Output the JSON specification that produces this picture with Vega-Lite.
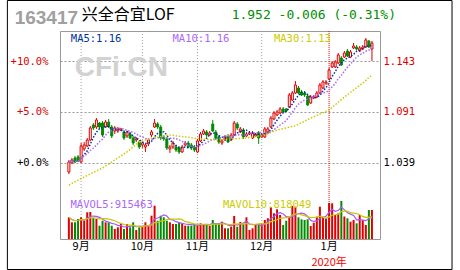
{
"$schema": "https://vega.github.io/schema/vega-lite/v6.json",
"width": 320, "height": 208,
"autosize": {"type": "none"},
"padding": {"left": 60, "top": 31, "right": 80, "bottom": 31},
"background": "#ffffff",
"config": {"view": {"stroke": "#999999", "strokeWidth": 1}},
"datasets": {"k": [
{"i":0,"o":1.0295,"h":1.0418,"l":1.0274,"c":1.0397,"v":868000,"ma30":1.0161},
{"i":1,"o":1.0387,"h":1.0438,"l":1.0377,"c":1.0418,"v":668000},
{"i":2,"o":1.0438,"h":1.0459,"l":1.0387,"c":1.0397,"v":668000},
{"i":3,"o":1.0449,"h":1.0469,"l":1.0397,"c":1.0408,"v":800000},
{"i":4,"o":1.0397,"h":1.0592,"l":1.0387,"c":1.0561,"v":868000,"ma30":1.0228},
{"i":5,"o":1.0531,"h":1.0602,"l":1.0510,"c":1.0572,"v":732000},
{"i":6,"o":1.0561,"h":1.0643,"l":1.0551,"c":1.0623,"v":1068000},
{"i":7,"o":1.0623,"h":1.0766,"l":1.0613,"c":1.0746,"v":1080000},
{"i":8,"o":1.0777,"h":1.0797,"l":1.0725,"c":1.0746,"v":840000},
{"i":9,"o":1.0756,"h":1.0848,"l":1.0736,"c":1.0828,"v":800000},
{"i":10,"o":1.0797,"h":1.0807,"l":1.0736,"c":1.0756,"v":532000},
{"i":11,"o":1.0797,"h":1.0818,"l":1.0654,"c":1.0674,"v":732000,"ma30":1.0336},
{"i":12,"o":1.0756,"h":1.0828,"l":1.0746,"c":1.0807,"v":668000},
{"i":13,"o":1.0807,"h":1.0838,"l":1.0746,"c":1.0756,"v":668000},
{"i":14,"o":1.0756,"h":1.0777,"l":1.0643,"c":1.0664,"v":532000},
{"i":15,"o":1.0715,"h":1.0766,"l":1.0684,"c":1.0746,"v":400000},
{"i":16,"o":1.0715,"h":1.0756,"l":1.0695,"c":1.0725,"v":468000},
{"i":17,"o":1.0725,"h":1.0746,"l":1.0715,"c":1.0736,"v":600000},
{"i":18,"o":1.0705,"h":1.0725,"l":1.0623,"c":1.0643,"v":400000},
{"i":19,"o":1.0664,"h":1.0715,"l":1.0643,"c":1.0705,"v":600000,"ma30":1.0500},
{"i":20,"o":1.0684,"h":1.0705,"l":1.0633,"c":1.0643,"v":468000},
{"i":21,"o":1.0643,"h":1.0664,"l":1.0572,"c":1.0592,"v":668000},
{"i":22,"o":1.0623,"h":1.0654,"l":1.0602,"c":1.0633,"v":360000},
{"i":23,"o":1.0602,"h":1.0623,"l":1.0531,"c":1.0551,"v":468000,"ma30":1.0602},
{"i":24,"o":1.0572,"h":1.0613,"l":1.0541,"c":1.0592,"v":532000},
{"i":25,"o":1.0551,"h":1.0582,"l":1.0500,"c":1.0572,"v":668000},
{"i":26,"o":1.0582,"h":1.0643,"l":1.0561,"c":1.0623,"v":532000},
{"i":27,"o":1.0674,"h":1.0725,"l":1.0654,"c":1.0705,"v":932000,"ma30":1.0643},
{"i":28,"o":1.0756,"h":1.0838,"l":1.0746,"c":1.0797,"v":1332000},
{"i":29,"o":1.0787,"h":1.0807,"l":1.0736,"c":1.0756,"v":732000},
{"i":30,"o":1.0756,"h":1.0777,"l":1.0623,"c":1.0643,"v":932000},
{"i":31,"o":1.0654,"h":1.0674,"l":1.0613,"c":1.0633,"v":868000},
{"i":32,"o":1.0633,"h":1.0654,"l":1.0520,"c":1.0541,"v":732000},
{"i":33,"o":1.0531,"h":1.0572,"l":1.0490,"c":1.0551,"v":668000,"ma30":1.0674},
{"i":34,"o":1.0551,"h":1.0613,"l":1.0531,"c":1.0592,"v":600000},
{"i":35,"o":1.0551,"h":1.0572,"l":1.0500,"c":1.0520,"v":600000},
{"i":36,"o":1.0541,"h":1.0561,"l":1.0479,"c":1.0500,"v":668000},
{"i":37,"o":1.0500,"h":1.0572,"l":1.0490,"c":1.0551,"v":600000},
{"i":38,"o":1.0572,"h":1.0613,"l":1.0561,"c":1.0592,"v":532000,"ma30":1.0654},
{"i":39,"o":1.0592,"h":1.0613,"l":1.0541,"c":1.0551,"v":532000},
{"i":40,"o":1.0572,"h":1.0592,"l":1.0520,"c":1.0541,"v":532000},
{"i":41,"o":1.0551,"h":1.0572,"l":1.0500,"c":1.0520,"v":600000},
{"i":42,"o":1.0500,"h":1.0633,"l":1.0490,"c":1.0613,"v":532000},
{"i":43,"o":1.0613,"h":1.0705,"l":1.0602,"c":1.0684,"v":628000,"ma30":1.0633},
{"i":44,"o":1.0684,"h":1.0736,"l":1.0674,"c":1.0715,"v":600000},
{"i":45,"o":1.0705,"h":1.0725,"l":1.0654,"c":1.0674,"v":572000},
{"i":46,"o":1.0674,"h":1.0715,"l":1.0664,"c":1.0695,"v":532000},
{"i":47,"o":1.0787,"h":1.0828,"l":1.0705,"c":1.0715,"v":760000},
{"i":48,"o":1.0705,"h":1.0725,"l":1.0623,"c":1.0643,"v":628000,"ma30":1.0623},
{"i":49,"o":1.0654,"h":1.0674,"l":1.0582,"c":1.0602,"v":600000},
{"i":50,"o":1.0592,"h":1.0633,"l":1.0572,"c":1.0613,"v":692000},
{"i":51,"o":1.0623,"h":1.0674,"l":1.0613,"c":1.0654,"v":428000},
{"i":52,"o":1.0654,"h":1.0684,"l":1.0592,"c":1.0602,"v":428000},
{"i":53,"o":1.0623,"h":1.0695,"l":1.0613,"c":1.0674,"v":492000,"ma30":1.0633},
{"i":54,"o":1.0674,"h":1.0818,"l":1.0664,"c":1.0797,"v":920000},
{"i":55,"o":1.0787,"h":1.0807,"l":1.0725,"c":1.0746,"v":492000},
{"i":56,"o":1.0705,"h":1.0756,"l":1.0695,"c":1.0736,"v":680000},
{"i":57,"o":1.0725,"h":1.0746,"l":1.0633,"c":1.0654,"v":600000},
{"i":58,"o":1.0664,"h":1.0705,"l":1.0654,"c":1.0684,"v":868000,"ma30":1.0643},
{"i":59,"o":1.0684,"h":1.0715,"l":1.0674,"c":1.0695,"v":360000},
{"i":60,"o":1.0643,"h":1.0715,"l":1.0633,"c":1.0695,"v":428000},
{"i":61,"o":1.0664,"h":1.0695,"l":1.0654,"c":1.0684,"v":600000},
{"i":62,"o":1.0695,"h":1.0715,"l":1.0582,"c":1.0643,"v":600000},
{"i":63,"o":1.0654,"h":1.0695,"l":1.0643,"c":1.0674,"v":628000},
{"i":64,"o":1.0654,"h":1.0756,"l":1.0643,"c":1.0736,"v":760000,"ma30":1.0674},
{"i":65,"o":1.0705,"h":1.0756,"l":1.0695,"c":1.0736,"v":828000},
{"i":66,"o":1.0756,"h":1.0869,"l":1.0746,"c":1.0848,"v":1268000},
{"i":67,"o":1.0838,"h":1.0920,"l":1.0828,"c":1.0900,"v":1028000},
{"i":68,"o":1.0879,"h":1.0930,"l":1.0869,"c":1.0910,"v":1188000,"ma30":1.0725},
{"i":69,"o":1.0900,"h":1.0961,"l":1.0889,"c":1.0941,"v":960000},
{"i":70,"o":1.0941,"h":1.0961,"l":1.0900,"c":1.0910,"v":560000},
{"i":71,"o":1.0941,"h":1.0951,"l":1.0910,"c":1.0920,"v":732000},
{"i":72,"o":1.0961,"h":1.1105,"l":1.0951,"c":1.1084,"v":892000},
{"i":73,"o":1.1033,"h":1.1125,"l":1.1023,"c":1.1105,"v":1320000},
{"i":74,"o":1.1105,"h":1.1228,"l":1.1095,"c":1.1187,"v":1292000,"ma30":1.0769},
{"i":75,"o":1.1156,"h":1.1177,"l":1.1095,"c":1.1105,"v":868000},
{"i":76,"o":1.1115,"h":1.1136,"l":1.1074,"c":1.1084,"v":788000},
{"i":77,"o":1.1105,"h":1.1125,"l":1.1064,"c":1.1084,"v":760000},
{"i":78,"o":1.1074,"h":1.1095,"l":1.0971,"c":1.0982,"v":788000},
{"i":79,"o":1.1002,"h":1.1084,"l":1.0992,"c":1.1064,"v":520000,"ma30":1.0848},
{"i":80,"o":1.1054,"h":1.1084,"l":1.1043,"c":1.1064,"v":652000},
{"i":81,"o":1.1064,"h":1.1125,"l":1.1054,"c":1.1105,"v":892000},
{"i":82,"o":1.1105,"h":1.1207,"l":1.1095,"c":1.1187,"v":1292000},
{"i":83,"o":1.1156,"h":1.1238,"l":1.1146,"c":1.1218,"v":892000},
{"i":84,"o":1.1207,"h":1.1238,"l":1.1187,"c":1.1218,"v":828000},
{"i":85,"o":1.1249,"h":1.1361,"l":1.1238,"c":1.1341,"v":1440000,"ma30":1.0930},
{"i":86,"o":1.1372,"h":1.1433,"l":1.1361,"c":1.1413,"v":1428000},
{"i":87,"o":1.1372,"h":1.1443,"l":1.1361,"c":1.1423,"v":960000},
{"i":88,"o":1.1413,"h":1.1515,"l":1.1402,"c":1.1495,"v":1028000},
{"i":89,"o":1.1464,"h":1.1484,"l":1.1382,"c":1.1392,"v":1520000},
{"i":90,"o":1.1474,"h":1.1536,"l":1.1464,"c":1.1515,"v":900000,"ma30":1.1064},
{"i":91,"o":1.1536,"h":1.1556,"l":1.1474,"c":1.1484,"v":828000},
{"i":92,"o":1.1474,"h":1.1546,"l":1.1464,"c":1.1526,"v":692000},
{"i":93,"o":1.1567,"h":1.1618,"l":1.1556,"c":1.1587,"v":760000},
{"i":94,"o":1.1577,"h":1.1597,"l":1.1546,"c":1.1556,"v":628000},
{"i":95,"o":1.1536,"h":1.1587,"l":1.1526,"c":1.1567,"v":960000},
{"i":96,"o":1.1556,"h":1.1597,"l":1.1546,"c":1.1577,"v":750000,"ma30":1.1207},
{"i":97,"o":1.1577,"h":1.1669,"l":1.1567,"c":1.1649,"v":560000},
{"i":98,"o":1.1638,"h":1.1649,"l":1.1567,"c":1.1577,"v":1160000},
{"i":99,"o":1.1556,"h":1.1638,"l":1.1433,"c":1.1618,"v":1160000,"ma30":1.1290}
],
"months": [{"i": 4, "m": "9月"}, {"i": 24, "m": "10月"}, {"i": 42, "m": "11月"}, {"i": 63, "m": "12月"}, {"i": 85, "m": "1月"}],
"one": [{"n": 1}]},
"layer": [
  {
    "layer": [
      {"data": {"name": "months"},
       "mark": {"type": "rule", "strokeWidth": 1},
       "encoding": {
         "x": {"field": "i", "type": "quantitative", "scale": {"domain": [-1.266, 100], "nice": false, "zero": false}, "axis": null},
         "color": {"condition": {"test": "datum.i == 85", "value": "#ff0000"}, "value": "#a0a0a0"},
         "strokeDash": {"condition": {"test": "datum.i == 85", "value": [1, 1]}, "value": [1, 2]}}},
      {"data": {"name": "k"},
       "mark": {"type": "bar", "orient": "vertical", "size": 2},
       "encoding": {
         "x": {"field": "i", "type": "quantitative", "axis": null},
         "y": {"field": "v", "type": "quantitative", "scale": {"domain": [0, 8320000], "nice": false, "zero": true}, "axis": null},
         "color": {"condition": {"test": "datum.c >= datum.o", "value": "#e00000"}, "value": "#008c00"}}},
      {"data": {"name": "k"},
       "transform": [{"window": [{"op": "mean", "field": "v", "as": "mavol5"}], "frame": [-4, 0], "sort": [{"field": "i"}]}],
       "mark": {"type": "line", "color": "#aa55ff", "strokeWidth": 1.2},
       "encoding": {"x": {"field": "i", "type": "quantitative", "axis": null},
         "y": {"field": "mavol5", "type": "quantitative", "axis": null}}},
      {"data": {"name": "k"},
       "transform": [{"window": [{"op": "mean", "field": "v", "as": "mavol10"}], "frame": [-9, 0], "sort": [{"field": "i"}]}],
       "mark": {"type": "line", "color": "#c8c800", "strokeWidth": 1.2},
       "encoding": {"x": {"field": "i", "type": "quantitative", "axis": null},
         "y": {"field": "mavol10", "type": "quantitative", "axis": null}}}
    ]
  },
  {
    "layer": [
      {"data": {"name": "one"},
       "mark": {"type": "rect", "filled": false, "stroke": "#000000", "strokeWidth": 1},
       "encoding": {"x": {"datum": -20.09, "type": "quantitative", "axis": null},
                    "x2": {"datum": 125.16},
                    "y": {"datum": 1.2054, "type": "quantitative", "axis": null},
                    "y2": {"datum": 0.9294}}},
      {"data": {"name": "one"},
       "mark": {"type": "text", "align": "left", "baseline": "alphabetic", "font": "Liberation Sans", "fontWeight": "bold", "fontSize": 28, "color": "#d2d2d2"},
       "encoding": {"x": {"datum": 1.9, "type": "quantitative", "axis": null},
                    "y": {"datum": 1.1282, "type": "quantitative", "axis": null},
                    "text": {"value": "CFi.CN"}}},
      {"data": {"name": "k"},
       "mark": {"type": "rule", "strokeWidth": 1},
       "encoding": {
         "x": {"field": "i", "type": "quantitative", "axis": null},
         "y": {"field": "l", "type": "quantitative", "scale": {"domain": [0.9607, 1.1741], "nice": false, "zero": false},
           "axis": {"orient": "left", "values": [1.039, 1.091, 1.143],
             "labelExpr": "datum.value > 1.1 ? '+10.0%' : datum.value > 1.06 ? '+5.0%' : '+0.0%'",
             "labelColor": {"condition": {"test": "datum.value > 1.05", "value": "#e00000"}, "value": "#000000"},
             "labelFont": "DejaVu Sans Mono", "labelFontSize": 10.5, "labelPadding": 12,
             "ticks": false, "domain": false, "grid": true, "gridColor": "#999999", "gridDash": [2, 2], "gridOpacity": 1, "title": null}},
         "y2": {"field": "h"},
         "color": {"condition": {"test": "datum.c >= datum.o", "value": "#e00000"}, "value": "#008c00"}}},
      {"data": {"name": "k"},
       "mark": {"type": "bar", "orient": "vertical", "size": 2, "strokeWidth": 1},
       "encoding": {
         "x": {"field": "i", "type": "quantitative", "axis": null},
         "y": {"field": "o", "type": "quantitative",
           "axis": {"orient": "right", "values": [1.039, 1.091, 1.143], "format": ".3f",
             "labelColor": {"condition": {"test": "datum.value > 1.05", "value": "#e00000"}, "value": "#000000"},
             "labelFont": "DejaVu Sans Mono", "labelFontSize": 10.5, "labelPadding": 3,
             "ticks": false, "domain": false, "grid": false, "title": null}},
         "y2": {"field": "c"},
         "fill": {"condition": {"test": "datum.c >= datum.o", "value": "#ffffff"}, "value": "#008c00"},
         "stroke": {"condition": {"test": "datum.c >= datum.o", "value": "#e00000"}, "value": "#008c00"}}},
      {"data": {"name": "k"},
       "transform": [{"window": [{"op": "mean", "field": "c", "as": "ma5"}], "frame": [-4, 0], "sort": [{"field": "i"}]}],
       "mark": {"type": "line", "color": "#003399", "strokeWidth": 1.5, "strokeDash": [1.5, 1.66]},
       "encoding": {"x": {"field": "i", "type": "quantitative", "axis": null}, "y": {"field": "ma5", "type": "quantitative", "axis": null}}},
      {"data": {"name": "k"},
       "transform": [{"window": [{"op": "mean", "field": "c", "as": "ma10"}], "frame": [-9, 0], "sort": [{"field": "i"}]}],
       "mark": {"type": "line", "color": "#aa66ff", "strokeWidth": 1.5, "strokeDash": [1.5, 1.66]},
       "encoding": {"x": {"field": "i", "type": "quantitative", "axis": null}, "y": {"field": "ma10", "type": "quantitative", "axis": null}}},
      {"data": {"name": "k"},
       "transform": [{"filter": {"field": "ma30", "valid": true}}],
       "mark": {"type": "line", "color": "#cccc00", "strokeWidth": 1.5, "strokeDash": [1.5, 1.66]},
       "encoding": {"x": {"field": "i", "type": "quantitative", "axis": null}, "y": {"field": "ma30", "type": "quantitative", "axis": null}}},
      {"data": {"name": "months"},
       "mark": {"type": "text", "align": "center", "baseline": "middle", "font": "Noto Sans CJK SC", "fontSize": 11, "color": "#000000"},
       "encoding": {"x": {"field": "i", "type": "quantitative", "axis": null}, "y": {"datum": 0.9530, "type": "quantitative", "axis": null}, "text": {"field": "m"}}},
      {"data": {"name": "one"},
       "mark": {"type": "text", "align": "left", "baseline": "alphabetic", "font": "Liberation Sans", "fontWeight": "bold", "fontSize": 19, "color": "#a0a0a0"},
       "encoding": {"x": {"datum": -17.72, "type": "quantitative", "axis": null}, "y": {"datum": 1.1813, "type": "quantitative", "axis": null}, "text": {"value": "163417"}}},
      {"data": {"name": "one"},
       "mark": {"type": "text", "align": "left", "baseline": "middle", "font": "Noto Sans CJK SC", "fontSize": 16, "color": "#000000"},
       "encoding": {"x": {"datum": 4.2, "type": "quantitative", "axis": null}, "y": {"datum": 1.1908, "type": "quantitative", "axis": null}, "text": {"value": "兴全合宜LOF"}}},
      {"data": {"name": "one"},
       "mark": {"type": "text", "align": "left", "baseline": "middle", "font": "DejaVu Sans Mono", "fontSize": 13, "color": "#009000"},
       "encoding": {"x": {"datum": 53.17, "type": "quantitative", "axis": null}, "y": {"datum": 1.1905, "type": "quantitative", "axis": null}, "text": {"value": "1.952 -0.006 (-0.31%)"}}},
      {"data": {"name": "one"},
       "mark": {"type": "text", "align": "left", "baseline": "middle", "font": "DejaVu Sans Mono", "fontSize": 10.5, "color": "#003399"},
       "encoding": {"x": {"datum": 0.63, "type": "quantitative", "axis": null}, "y": {"datum": 1.1662, "type": "quantitative", "axis": null}, "text": {"value": "MA5:1.16"}}},
      {"data": {"name": "one"},
       "mark": {"type": "text", "align": "left", "baseline": "middle", "font": "DejaVu Sans Mono", "fontSize": 10.5, "color": "#aa66ff"},
       "encoding": {"x": {"datum": 33.86, "type": "quantitative", "axis": null}, "y": {"datum": 1.1662, "type": "quantitative", "axis": null}, "text": {"value": "MA10:1.16"}}},
      {"data": {"name": "one"},
       "mark": {"type": "text", "align": "left", "baseline": "middle", "font": "DejaVu Sans Mono", "fontSize": 10.5, "color": "#cccc00"},
       "encoding": {"x": {"datum": 66.99, "type": "quantitative", "axis": null}, "y": {"datum": 1.1662, "type": "quantitative", "axis": null}, "text": {"value": "MA30:1.13"}}},
      {"data": {"name": "one"},
       "mark": {"type": "text", "align": "left", "baseline": "middle", "font": "DejaVu Sans Mono", "fontSize": 10.5, "color": "#aa66ff"},
       "encoding": {"x": {"datum": 0.54, "type": "quantitative", "axis": null}, "y": {"datum": 0.9951, "type": "quantitative", "axis": null}, "text": {"value": "MAVOL5:915463"}}},
      {"data": {"name": "one"},
       "mark": {"type": "text", "align": "left", "baseline": "middle", "font": "DejaVu Sans Mono", "fontSize": 10.5, "color": "#cccc00"},
       "encoding": {"x": {"datum": 50.32, "type": "quantitative", "axis": null}, "y": {"datum": 0.9951, "type": "quantitative", "axis": null}, "text": {"value": "MAVOL10:818049"}}},
      {"data": {"name": "one"},
       "mark": {"type": "text", "align": "center", "baseline": "middle", "font": "Noto Sans CJK SC", "fontSize": 11, "color": "#ff0000"},
       "encoding": {"x": {"datum": 85, "type": "quantitative", "axis": null}, "y": {"datum": 0.9361, "type": "quantitative", "axis": null}, "text": {"value": "2020年"}}}
    ],
    "resolve": {"axis": {"y": "independent"}}
  }
],
"resolve": {"scale": {"y": "independent"}}
}
